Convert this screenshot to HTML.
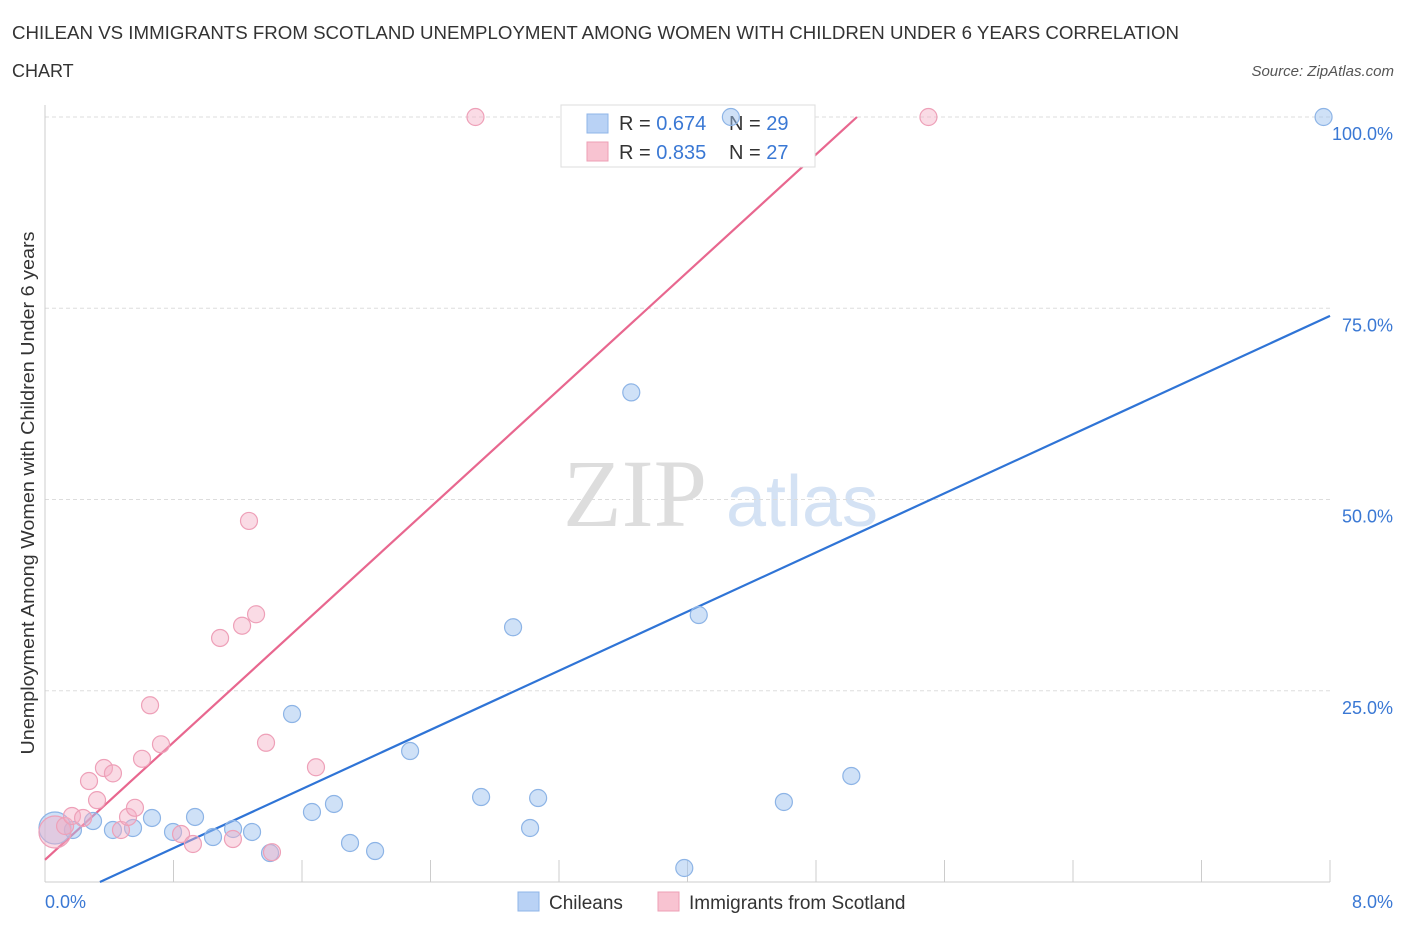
<!DOCTYPE html>
<html><head><meta charset="utf-8"><style>
body{margin:0;background:#fff;font-family:"Liberation Sans",sans-serif;}
svg{display:block}
</style></head><body>
<svg id="chart" width="1406" height="930">
<text x="12" y="39" font-size="18" fill="#333" textLength="1167" lengthAdjust="spacingAndGlyphs">CHILEAN VS IMMIGRANTS FROM SCOTLAND UNEMPLOYMENT AMONG WOMEN WITH CHILDREN UNDER 6 YEARS CORRELATION</text>
<text x="12" y="77" font-size="18" fill="#333">CHART</text>
<text x="1394" y="76" font-size="15" fill="#555" font-style="italic" text-anchor="end">Source: ZipAtlas.com</text>
<text x="34" y="493" font-size="18" fill="#333" text-anchor="middle" textLength="523" lengthAdjust="spacingAndGlyphs" transform="rotate(-90 34 493)">Unemployment Among Women with Children Under 6 years</text>
<g>
<text x="635" y="526" font-size="96" fill="#ddd" font-family="Liberation Serif,serif" text-anchor="middle">ZIP</text>
<text x="802" y="526" font-size="72" fill="#d4e2f4" text-anchor="middle">atlas</text>
</g>
<g id="grid"></g><g id="axes"></g><g id="lines"></g>
<g>
<rect x="561" y="105" width="254" height="62" fill="#fff" stroke="#ddd"/>
<rect x="587" y="114" width="21" height="19" fill="#b9d2f5" stroke="#8fb5e8"/>
<rect x="587" y="142" width="21" height="19" fill="#f8c3d1" stroke="#ee9fb5"/>
<text x="619" y="130" font-size="20" fill="#333">R = <tspan fill="#3a78d4">0.674</tspan></text>
<text x="729" y="130" font-size="20" fill="#333">N = <tspan fill="#3a78d4">29</tspan></text>
<text x="619" y="159" font-size="20" fill="#333">R = <tspan fill="#3a78d4">0.835</tspan></text>
<text x="729" y="159" font-size="20" fill="#333">N = <tspan fill="#3a78d4">27</tspan></text>
</g>
<g id="pts"></g>
<g>
<rect x="518" y="892" width="21" height="19" fill="#b9d2f5" stroke="#8fb5e8"/>
<text x="549" y="909" font-size="19" fill="#333">Chileans</text>
<rect x="658" y="892" width="21" height="19" fill="#f8c3d1" stroke="#ee9fb5"/>
<text x="689" y="909" font-size="19" fill="#333">Immigrants from Scotland</text>
</g>
</svg>
<script>
const blueX=[0.062,0.174,0.299,0.423,0.548,0.666,0.797,0.934,1.046,1.171,1.289,1.401,1.538,1.662,1.799,1.899,2.055,2.273,2.715,2.914,3.02,3.07,3.65,3.98,4.07,4.27,4.60,5.02,7.96];
const blueY=[7.06,6.8,7.97,6.8,7.06,8.37,6.54,8.5,5.88,6.93,6.54,3.79,21.96,9.15,10.2,5.1,4.05,17.12,11.11,33.3,7.06,10.98,64.0,1.83,34.9,100,10.46,13.86,100];
const pinkX=[0.062,0.125,0.168,0.237,0.274,0.324,0.367,0.423,0.473,0.517,0.56,0.604,0.654,0.722,0.847,0.921,1.09,1.17,1.227,1.27,1.314,1.376,1.413,1.687,2.68,5.50];
const pinkY=[6.54,7.32,8.63,8.37,13.2,10.7,14.9,14.2,6.8,8.5,9.7,16.1,23.1,18.0,6.27,4.97,31.9,5.62,33.5,47.2,35.0,18.2,3.9,15.0,100,100];
const blueTrend=[[0.342,0],[8,74.0]];
const pinkTrend=[[0,2.9],[5.055,100]];
const yTicks=[25,50,75,100];
const xTickCount=10;
const NS="http://www.w3.org/2000/svg";
const X=v=>45+v/8*1285, Y=v=>882-v*7.65;
function mk(tag,attrs,parent){const e=document.createElementNS(NS,tag);for(const k in attrs)e.setAttribute(k,attrs[k]);document.getElementById(parent).appendChild(e);return e;}
yTicks.forEach(t=>{
 const l=mk('line',{x1:45,x2:1330,y1:Y(t),y2:Y(t),stroke:'#ddd','stroke-dasharray':'4,3'},'grid');
 
 
 const tx=mk('text',{x:1393,y:Y(t)+23,'font-size':18,fill:'#3a78d4','text-anchor':'end'},'grid');
 tx.textContent=t.toFixed(1)+'%';
 
 
});
const ya=mk('line',{x1:45,x2:45,y1:105,y2:882,stroke:'#ccc'},'axes');


const xa=mk('line',{x1:45,x2:1330,y1:882,y2:882,stroke:'#ccc'},'axes');


for(let i=1;i<=xTickCount;i++){const t=mk('line',{x1:X(i*0.8),x2:X(i*0.8),y1:860,y2:882,stroke:'#ccc'},'axes');
 
 }
[['0.0%',45,'start'],['8.0%',1393,'end']].forEach(a=>{const t=mk('text',{x:a[1],y:908,'font-size':18,fill:'#3a78d4','text-anchor':a[2]},'axes');t.textContent=a[0];
 
 });
function trend(tr,c,n){const l=mk('line',{x1:X(tr[0][0]),y1:Y(tr[0][1]),x2:X(tr[1][0]),y2:Y(tr[1][1]),stroke:c,'stroke-width':2.2},'lines');
 
 }
trend(blueTrend,'#2f74d6','chileans-trendline');
trend(pinkTrend,'#e8678f','scotland-trendline');
function pts(xs,ys,f,s,n){xs.forEach((x,i)=>{const c=mk('circle',{cx:X(x),cy:Y(ys[i]),r:i===0?16:8.5,fill:f,stroke:s,'stroke-width':1.2},'pts');
 
 });}
pts(blueX,blueY,'rgba(160,196,240,0.5)','#8db4e6','chileans-point');
pts(pinkX,pinkY,'rgba(245,175,198,0.45)','#eea0b8','scotland-point');
</script>
</body></html>
